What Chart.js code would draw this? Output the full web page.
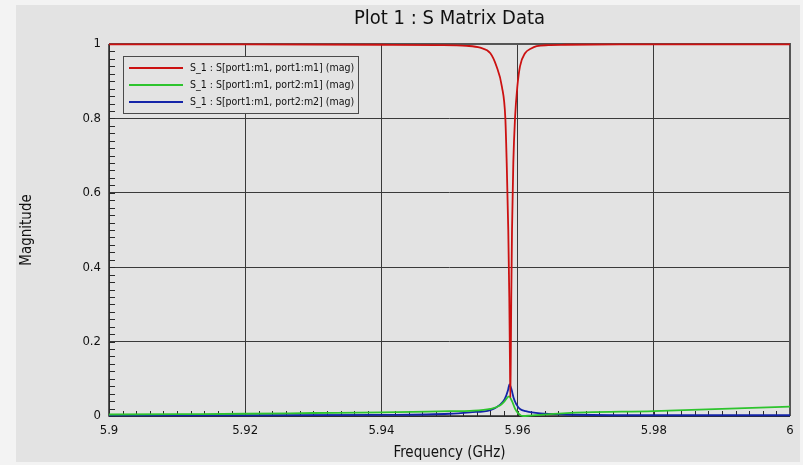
<!DOCTYPE html>
<html>
<head>
<meta charset="utf-8">
<title>S Matrix Data</title>
<script src="https://cdn.jsdelivr.net/npm/chart.js@4.4.1/dist/chart.umd.min.js"></script>
<style>
  html, body { margin: 0; padding: 0; background: #f3f3f3; }
  canvas { display: block; }
</style>
</head>
<body>
<canvas id="sChart" width="803" height="465"></canvas>
<script>
// S[port1:m1, port1:m1] - reflection, dips at resonance
const s11Freq = [5.9, 5.92, 5.94, 5.948, 5.9525, 5.9545, 5.956, 5.9569, 5.9577, 5.9582, 5.9584, 5.95863, 5.95878, 5.95888, 5.95893,
                 5.95899, 5.95907, 5.95918, 5.95937, 5.95962, 5.95996, 5.96035, 5.96109, 5.962, 5.9628, 5.9645, 5.967, 5.975, 5.99, 6.0];
const s11Mag  = [0.999, 0.999, 0.998, 0.997, 0.995, 0.99, 0.975, 0.94, 0.885, 0.80, 0.68, 0.50, 0.32, 0.14, 0.05,
                 0.14, 0.32, 0.50, 0.68, 0.80, 0.885, 0.94, 0.975, 0.988, 0.994, 0.997, 0.998, 0.999, 0.999, 0.999];

// S[port1:m1, port2:m1]
const s21Freq = [5.9, 5.91, 5.92, 5.93, 5.94, 5.95, 5.953, 5.956, 5.9574, 5.9581, 5.95874, 5.95918, 5.95962, 5.96006, 5.96079,
                 5.96182, 5.96329, 5.9672, 5.97, 5.98, 5.99, 6.0];
const s21Mag  = [0.004, 0.005, 0.006, 0.008, 0.010, 0.013, 0.014, 0.019, 0.028, 0.04, 0.053, 0.04, 0.02, 0.008, 0.0,
                 0.001, 0.003, 0.008, 0.010, 0.013, 0.019, 0.025];

// S[port1:m1, port2:m2]
const s22Freq = [5.9, 5.92, 5.94, 5.95, 5.953, 5.956, 5.9574, 5.9581, 5.9586, 5.9588, 5.9591, 5.9594, 5.9598, 5.9604, 5.9612,
                 5.9633, 5.967, 5.98, 6.0];
const s22Mag  = [0.002, 0.002, 0.003, 0.006, 0.01, 0.016, 0.03, 0.045, 0.07, 0.085, 0.072, 0.05, 0.032, 0.018, 0.013,
                 0.007, 0.004, 0.002, 0.002];

const seriesNames = [
  'S_1 : S[port1:m1, port1:m1] (mag)',
  'S_1 : S[port1:m1, port2:m1] (mag)',
  'S_1 : S[port1:m1, port2:m2] (mag)'
];

const xTicks = [5.9, 5.92, 5.94, 5.96, 5.98, 6];
const xTickLabels = ['5.9', '5.92', '5.94', '5.96', '5.98', '6'];
const yTicks = [0, 0.2, 0.4, 0.6, 0.8, 1];
const yTickLabels = ['0', '0.2', '0.4', '0.6', '0.8', '1'];

const FONT = '"DejaVu Sans Condensed", "Liberation Sans Narrow", sans-serif';

const toPoints = (fx, my) => fx.map((f, i) => ({ x: f, y: my[i] }));

// grey panel behind everything
const panelBg = {
  id: 'panelBg',
  beforeDraw(chart) {
    const ctx = chart.ctx;
    ctx.save();
    ctx.fillStyle = '#f3f3f3';
    ctx.fillRect(0, 0, chart.width, chart.height);
    ctx.fillStyle = '#e3e3e3';
    ctx.fillRect(16, 5, 784, 457);
    ctx.restore();
  }
};

// frame + small inward tick marks on left and bottom axes
const plotFrame = {
  id: 'plotFrame',
  beforeDatasetsDraw(chart) {
    const { ctx, chartArea: a, scales: { x, y } } = chart;
    ctx.save();
    ctx.strokeStyle = '#2a2a2a';
    ctx.lineWidth = 1;
    ctx.beginPath();
    for (let k = 0; k <= 50; k++) {
      const py = Math.round(y.getPixelForValue(k / 50)) + 0.5;
      ctx.moveTo(a.left, py);
      ctx.lineTo(a.left + 6, py);
      const px = Math.round(x.getPixelForValue(5.9 + k * 0.002)) + 0.5;
      ctx.moveTo(px, a.bottom);
      ctx.lineTo(px, a.bottom - 5);
    }
    ctx.stroke();

    ctx.lineWidth = 1.5;
    ctx.beginPath();
    ctx.moveTo(a.left, a.top);
    ctx.lineTo(a.left, a.bottom);
    ctx.lineTo(a.right, a.bottom);
    ctx.stroke();

    ctx.strokeStyle = '#555';
    ctx.lineWidth = 2;
    ctx.beginPath();
    ctx.moveTo(a.left, a.top);
    ctx.lineTo(a.right, a.top);
    ctx.lineTo(a.right, a.bottom);
    ctx.stroke();
    ctx.restore();
  }
};

// boxed legend in the upper left corner of the plot
const boxLegend = {
  id: 'boxLegend',
  afterDatasetsDraw(chart) {
    const { ctx, chartArea: a } = chart;
    const bx = a.left + 14, by = a.top + 12, bw = 235, bh = 57;
    ctx.save();
    ctx.fillStyle = '#e3e3e3';
    ctx.fillRect(bx, by, bw, bh);
    ctx.strokeStyle = '#4a4a4a';
    ctx.lineWidth = 1;
    ctx.strokeRect(bx + 0.5, by + 0.5, bw, bh);
    ctx.font = '10.5px ' + FONT;
    ctx.textBaseline = 'middle';
    chart.data.datasets.forEach((ds, i) => {
      const ly = by + 12 + i * 17;
      ctx.strokeStyle = ds.borderColor;
      ctx.lineWidth = 2;
      ctx.beginPath();
      ctx.moveTo(bx + 6, ly);
      ctx.lineTo(bx + 60, ly);
      ctx.stroke();
      ctx.fillStyle = '#111';
      ctx.fillText(ds.label, bx + 67, ly);
    });
    ctx.restore();
  }
};

const lineDefaults = {
  showLine: true,
  pointRadius: 0,
  borderWidth: 1.8,
  cubicInterpolationMode: 'monotone',
  clip: 3
};

new Chart(document.getElementById('sChart'), {
  type: 'scatter',
  data: {
    datasets: [
      { ...lineDefaults, label: seriesNames[0], data: toPoints(s11Freq, s11Mag), borderColor: '#cc1111' },
      { ...lineDefaults, label: seriesNames[1], data: toPoints(s21Freq, s21Mag), borderColor: '#2ec42e' },
      { ...lineDefaults, label: seriesNames[2], data: toPoints(s22Freq, s22Mag), borderColor: '#1424a8' }
    ]
  },
  options: {
    responsive: false,
    animation: false,
    layout: { padding: { left: 16, right: 13, top: 0, bottom: 3 } },
    plugins: {
      legend: { display: false },
      tooltip: { enabled: false },
      title: {
        display: true,
        fullSize: false,
        text: 'Plot 1 : S Matrix Data',
        color: '#111',
        font: { family: FONT, size: 20, weight: 'normal' },
        padding: { top: 7, bottom: 13 }
      }
    },
    scales: {
      x: {
        type: 'linear',
        min: 5.9,
        max: 6,
        afterBuildTicks: s => { s.ticks = xTicks.map(v => ({ value: v })); },
        afterFit: s => { s.height = 46; },
        ticks: {
          autoSkip: false,
          maxRotation: 0,
          padding: 7,
          color: '#111',
          font: { family: FONT, size: 13 },
          callback: (v, i) => xTickLabels[i]
        },
        grid: { color: '#3a3a3a', lineWidth: 1, drawTicks: false },
        border: { display: false },
        title: {
          display: true,
          text: 'Frequency (GHz)',
          color: '#111',
          font: { family: FONT, size: 15 },
          padding: { top: 0, bottom: 0 }
        }
      },
      y: {
        min: 0,
        max: 1,
        afterBuildTicks: s => { s.ticks = yTicks.map(v => ({ value: v })); },
        afterFit: s => { s.width = 93; },
        ticks: {
          padding: 8,
          color: '#111',
          font: { family: FONT, size: 13 },
          callback: (v, i) => yTickLabels[i]
        },
        grid: { color: '#3a3a3a', lineWidth: 1, drawTicks: false },
        border: { display: false },
        title: {
          display: true,
          text: 'Magnitude',
          color: '#111',
          font: { family: FONT, size: 15 },
          padding: { top: 2, bottom: 0 }
        }
      }
    }
  },
  plugins: [panelBg, plotFrame, boxLegend]
});
</script>
</body>
</html>
